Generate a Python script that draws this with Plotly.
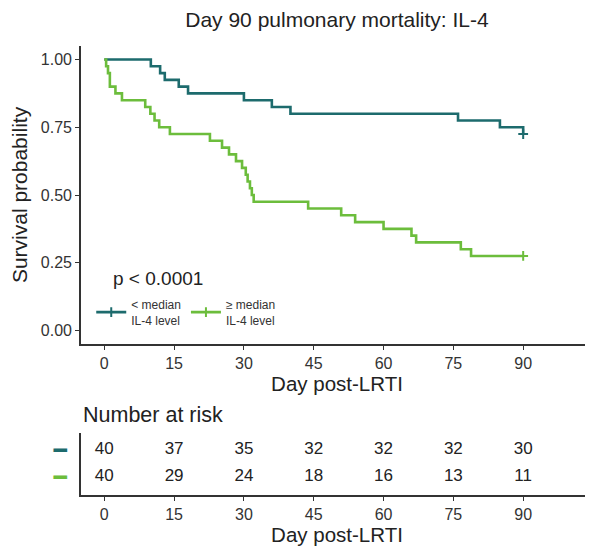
import plotly.graph_objects as go

# ---------------- data ----------------
low_times = [0, 10, 12, 13, 16, 18, 30, 36, 40, 76, 85, 90]
low_surv = [1.0, 0.975, 0.95, 0.925, 0.9, 0.875, 0.85, 0.825, 0.8, 0.775, 0.75, 0.725]
low_censor_t = [90]
low_censor_s = [0.725]

high_times = [0, 0.4, 0.8, 1.2, 2.4, 3.8, 8.8, 9.9, 10.8, 11.8, 14.1, 22.7, 25.3, 26.8,
              28.3, 29.6, 30.4, 30.8, 31.3, 31.7, 32.1, 43.8, 50.9, 53.9, 60, 66, 67,
              76.6, 78.8, 90]
high_surv = [1.0, 0.975, 0.95, 0.9, 0.875, 0.85, 0.825, 0.8, 0.775, 0.75, 0.725, 0.7,
             0.675, 0.65, 0.625, 0.6, 0.575, 0.55, 0.525, 0.5, 0.475, 0.45, 0.425, 0.4,
             0.375, 0.35, 0.325, 0.3, 0.275, 0.275]
high_censor_t = [90]
high_censor_s = [0.275]

risk_times = [0, 15, 30, 45, 60, 75, 90]
risk_low = [40, 37, 35, 32, 32, 32, 30]
risk_high = [40, 29, 24, 18, 16, 13, 11]

group_names = ["< median<br>IL-4 level", "≥ median<br>IL-4 level"]
x_ticks = [0, 15, 30, 45, 60, 75, 90]
y_ticks = [0, 0.25, 0.5, 0.75, 1.0]
y_ticktext = ["0.00", "0.25", "0.50", "0.75", "1.00"]

TEAL = "#1d6b6d"
GREEN = "#6cbd3c"
FONT = "Liberation Sans, Arial, sans-serif"
AXC = "#333333"

W, H = 585, 540  # page body has an 8px margin

fig = go.Figure()

# survival curves
fig.add_trace(go.Scatter(x=low_times, y=low_surv, mode="lines", line=dict(color=TEAL, width=2.6, shape="hv"),
                         showlegend=False, hoverinfo="skip"))
fig.add_trace(go.Scatter(x=high_times, y=high_surv, mode="lines", line=dict(color=GREEN, width=2.6, shape="hv"),
                         showlegend=False, hoverinfo="skip"))
# censor marks (also legend entries)
fig.add_trace(go.Scatter(x=low_censor_t, y=low_censor_s, mode="lines+markers", name=group_names[0],
                         line=dict(color=TEAL, width=2.6),
                         marker=dict(symbol="cross-thin", size=7, color=TEAL, line=dict(color=TEAL, width=2))))
fig.add_trace(go.Scatter(x=high_censor_t, y=high_censor_s, mode="lines+markers", name=group_names[1],
                         line=dict(color=GREEN, width=2.6),
                         marker=dict(symbol="cross-thin", size=7, color=GREEN, line=dict(color=GREEN, width=2))))

# risk table
fig.add_trace(go.Scatter(x=risk_times, y=["low"] * len(risk_times), text=[str(v) for v in risk_low],
                         mode="text", textfont=dict(size=17, color="#222", family=FONT),
                         xaxis="x2", yaxis="y2", showlegend=False, hoverinfo="skip"))
fig.add_trace(go.Scatter(x=risk_times, y=["high"] * len(risk_times), text=[str(v) for v in risk_high],
                         mode="text", textfont=dict(size=17, color="#222", family=FONT),
                         xaxis="x2", yaxis="y2", showlegend=False, hoverinfo="skip"))

axis_common = dict(showline=True, linecolor=AXC, linewidth=1.6, ticks="outside", ticklen=4,
                   tickcolor=AXC, tickwidth=1.3, showgrid=False, zeroline=False, automargin=False,
                   tickfont=dict(size=16, color="#333", family=FONT))

fig.update_layout(
    width=W, height=H,
    margin=dict(l=73, r=0, t=38, b=53),
    paper_bgcolor="white", plot_bgcolor="white",
    font=dict(family=FONT, color="#222"),
    title=dict(text="Day 90 pulmonary mortality: IL-4", x=0.5, xref="paper", xanchor="center",
               y=1 - 12 / H, yref="container", yanchor="middle",
               font=dict(size=21, color="#222", family=FONT)),
    xaxis=dict(axis_common, range=[-5, 105], tickvals=x_ticks, domain=[0, 1], anchor="y",
               title=dict(text="Day post-LRTI", font=dict(size=20.5, color="#222", family=FONT), standoff=2)),
    yaxis=dict(axis_common, range=[-0.05, 1.05], tickvals=y_ticks, ticktext=y_ticktext,
               domain=[151 / 449, 1], anchor="x",
               title=dict(text="Survival probability", font=dict(size=21, color="#222", family=FONT), standoff=8)),
    xaxis2=dict(axis_common, range=[-5, 105], tickvals=x_ticks, domain=[0, 1], anchor="y2",
                title=dict(text="Day post-LRTI", font=dict(size=20.5, color="#222", family=FONT), standoff=2)),
    yaxis2=dict(showline=True, linecolor=AXC, linewidth=1.6, showgrid=False, zeroline=False, automargin=False,
                type="category", categoryarray=["high", "low"], range=[-0.67, 1.63],
                tickvals=["low", "high"],
                ticktext=[f"<span style='color:{TEAL}'><b>━</b></span>", f"<span style='color:{GREEN}'><b>━</b></span>"],
                tickfont=dict(size=22, family="DejaVu Sans"), ticks="", ticklabelstandoff=8,
                domain=[0, 62 / 449], anchor="x2"),
    legend=dict(orientation="h", x=0.02, xanchor="left", y=(495 - 290) / 449, yanchor="top",
                font=dict(size=12, color="#333", family=FONT), bgcolor="rgba(0,0,0,0)",
                itemwidth=30, tracegroupgap=0),
    annotations=[
        dict(text="p < 0.0001", x=1.5, y=0.19, xref="x", yref="y", xanchor="left", yanchor="middle",
             showarrow=False, font=dict(size=19, color="#222", family=FONT)),
        dict(text="Number at risk", x=0, y=(495 - 415) / 449, xref="paper", yref="paper",
             xanchor="left", yanchor="middle", showarrow=False,
             font=dict(size=21.5, color="#222", family=FONT)),
    ],
)

fig.write_html("out.html")
